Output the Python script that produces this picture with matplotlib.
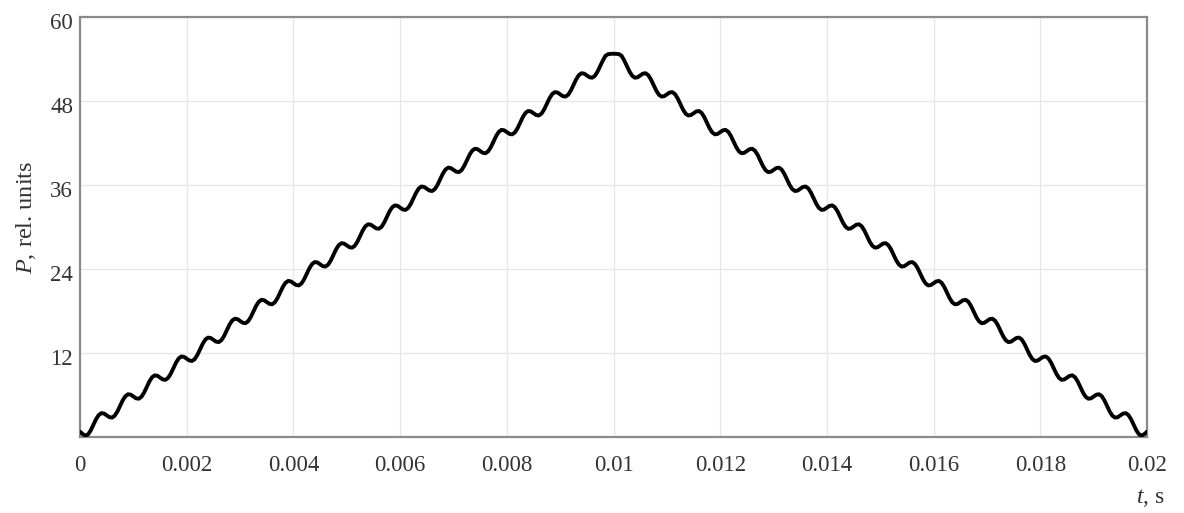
import matplotlib
matplotlib.use('Agg')
import matplotlib.pyplot as plt
import matplotlib.transforms as mtransforms
import numpy as np

plt.rcParams['font.family'] = ['Liberation Serif', 'DejaVu Serif']
plt.rcParams['mathtext.fontset'] = 'custom'
plt.rcParams['mathtext.rm'] = 'Liberation Serif'
plt.rcParams['mathtext.it'] = 'Liberation Serif:italic'

# sample step of the trace, s
dt = 0.00005

# P, rel. units, every 0.05 ms, rising half (0 .. 0.01 s)
p_rise = [
    0.70, 0.35, 0.15, 0.30, 0.88, 1.68, 2.48, 3.08, 3.35, 3.29,
    3.03, 2.77, 2.71, 2.98, 3.58, 4.38, 5.18, 5.78, 6.05, 5.99,
    5.73, 5.47, 5.41, 5.68, 6.28, 7.08, 7.88, 8.48, 8.75, 8.69,
    8.43, 8.17, 8.11, 8.38, 8.98, 9.78, 10.58, 11.18, 11.45, 11.39,
    11.13, 10.87, 10.81, 11.08, 11.68, 12.48, 13.28, 13.88, 14.15, 14.09,
    13.83, 13.57, 13.51, 13.78, 14.38, 15.18, 15.98, 16.58, 16.85, 16.79,
    16.53, 16.27, 16.21, 16.48, 17.08, 17.88, 18.68, 19.28, 19.55, 19.49,
    19.23, 18.97, 18.91, 19.18, 19.78, 20.58, 21.38, 21.98, 22.25, 22.19,
    21.93, 21.67, 21.61, 21.88, 22.48, 23.28, 24.08, 24.68, 24.95, 24.89,
    24.63, 24.37, 24.31, 24.58, 25.18, 25.98, 26.78, 27.38, 27.65, 27.59,
    27.33, 27.07, 27.01, 27.28, 27.88, 28.68, 29.48, 30.08, 30.35, 30.29,
    30.03, 29.77, 29.71, 29.98, 30.58, 31.38, 32.18, 32.78, 33.05, 32.99,
    32.73, 32.47, 32.41, 32.68, 33.28, 34.08, 34.88, 35.48, 35.75, 35.69,
    35.43, 35.17, 35.11, 35.38, 35.98, 36.78, 37.58, 38.18, 38.45, 38.39,
    38.13, 37.87, 37.81, 38.08, 38.68, 39.48, 40.28, 40.88, 41.15, 41.09,
    40.83, 40.57, 40.51, 40.78, 41.38, 42.18, 42.98, 43.58, 43.85, 43.79,
    43.53, 43.27, 43.21, 43.48, 44.08, 44.88, 45.68, 46.28, 46.55, 46.49,
    46.23, 45.97, 45.91, 46.18, 46.78, 47.58, 48.38, 48.98, 49.25, 49.19,
    48.93, 48.67, 48.61, 48.88, 49.48, 50.28, 51.08, 51.68, 51.95, 51.89,
    51.63, 51.37, 51.31, 51.58, 52.18, 52.98, 53.78, 54.45, 54.68, 54.72,
]

# falling half (0.01 .. 0.02 s)
p_fall = [
    54.74, 54.72, 54.68, 54.45, 53.78, 52.98, 52.18, 51.58, 51.31, 51.37,
    51.63, 51.89, 51.95, 51.68, 51.08, 50.28, 49.48, 48.88, 48.61, 48.67,
    48.93, 49.19, 49.25, 48.98, 48.38, 47.58, 46.78, 46.18, 45.91, 45.97,
    46.23, 46.49, 46.55, 46.28, 45.68, 44.88, 44.08, 43.48, 43.21, 43.27,
    43.53, 43.79, 43.85, 43.58, 42.98, 42.18, 41.38, 40.78, 40.51, 40.57,
    40.83, 41.09, 41.15, 40.88, 40.28, 39.48, 38.68, 38.08, 37.81, 37.87,
    38.13, 38.39, 38.45, 38.18, 37.58, 36.78, 35.98, 35.38, 35.11, 35.17,
    35.43, 35.69, 35.75, 35.48, 34.88, 34.08, 33.28, 32.68, 32.41, 32.47,
    32.73, 32.99, 33.05, 32.78, 32.18, 31.38, 30.58, 29.98, 29.71, 29.77,
    30.03, 30.29, 30.35, 30.08, 29.48, 28.68, 27.88, 27.28, 27.01, 27.07,
    27.33, 27.59, 27.65, 27.38, 26.78, 25.98, 25.18, 24.58, 24.31, 24.37,
    24.63, 24.89, 24.95, 24.68, 24.08, 23.28, 22.48, 21.88, 21.61, 21.67,
    21.93, 22.19, 22.25, 21.98, 21.38, 20.58, 19.78, 19.18, 18.91, 18.97,
    19.23, 19.49, 19.55, 19.28, 18.68, 17.88, 17.08, 16.48, 16.21, 16.27,
    16.53, 16.79, 16.85, 16.58, 15.98, 15.18, 14.38, 13.78, 13.51, 13.57,
    13.83, 14.09, 14.15, 13.88, 13.28, 12.48, 11.68, 11.08, 10.81, 10.87,
    11.13, 11.39, 11.45, 11.18, 10.58, 9.78, 8.98, 8.38, 8.11, 8.17,
    8.43, 8.69, 8.75, 8.48, 7.88, 7.08, 6.28, 5.68, 5.41, 5.47,
    5.73, 5.99, 6.05, 5.78, 5.18, 4.38, 3.58, 2.98, 2.71, 2.77,
    3.03, 3.29, 3.35, 3.08, 2.48, 1.68, 0.88, 0.30, 0.15, 0.35,
    0.70,
]

x_ticks = [0, 0.002, 0.004, 0.006, 0.008, 0.01, 0.012, 0.014, 0.016, 0.018, 0.02]
x_labels = ['0', '0.002', '0.004', '0.006', '0.008', '0.01', '0.012', '0.014', '0.016', '0.018', '0.02']
y_ticks = [12, 24, 36, 48, 60]
y_labels = ['12', '24', '36', '48', '60']

p = np.array(p_rise + p_fall)
t = np.arange(len(p)) * dt

fig = plt.figure(figsize=(11.84, 5.13), dpi=100)
ax = fig.add_axes([0.0676, 0.149, 0.9012, 0.818])

ax.plot(t, p, color='black', lw=2.8, solid_capstyle='round', solid_joinstyle='round', zorder=3)

ax.set_xlim(0, 0.02)
ax.set_ylim(0, 60)
ax.set_xticks(x_ticks)
ax.set_xticklabels(x_labels)
ax.set_yticks(y_ticks)
ax.set_yticklabels(y_labels)
ax.tick_params(length=0, labelsize=16.5, labelcolor='#333333', pad=5)
ax.tick_params(axis='x', pad=13)
ax.grid(True, color='#e6e6e6', lw=0.9)
for s in ax.spines.values():
    s.set_color('#8a8a8a')
    s.set_linewidth(1.6)

# labels sit a few pixels under their grid lines in the original
off = mtransforms.ScaledTranslation(0, -4 / 100, fig.dpi_scale_trans)
for lab in ax.get_yticklabels():
    lab.set_transform(lab.get_transform() + off)

fig.text(0.9715, 0.03, r'$\mathit{t}$, s', fontsize=17, color='#333333', ha='center', va='center')
fig.text(0.022, 0.577, r'$\mathit{P}$, rel. units', fontsize=17.5, color='#333333',
         ha='center', va='center', rotation=90)

fig.savefig('out.png', dpi=100)
